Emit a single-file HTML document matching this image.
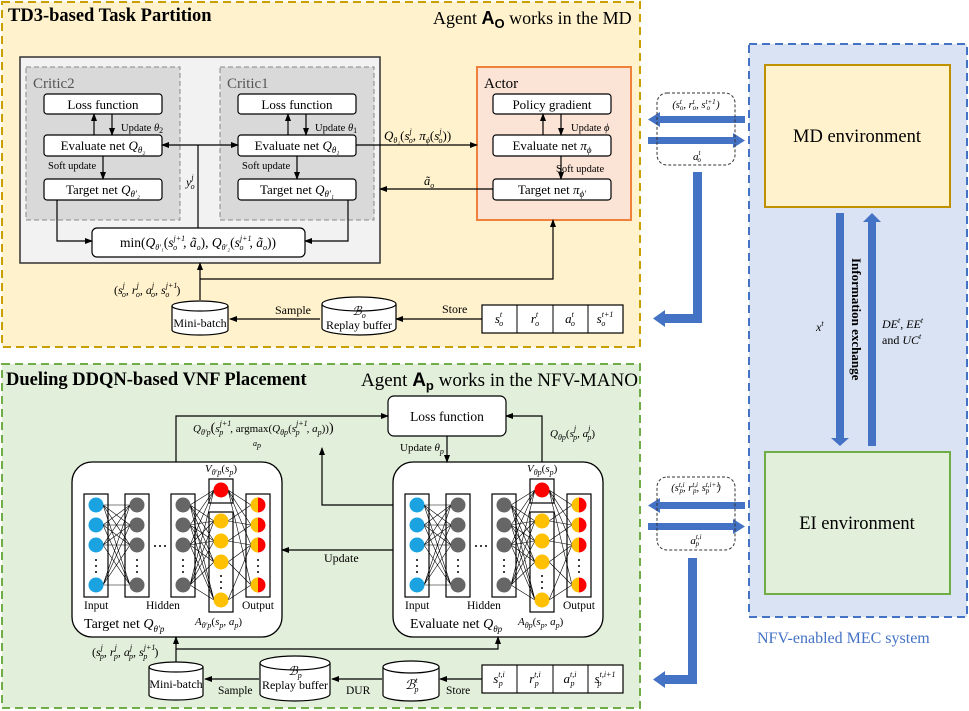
<!DOCTYPE html>
<html><head><meta charset="utf-8"><style>
html,body{margin:0;padding:0;background:#fff}
svg{display:block}
text{font-family:"Liberation Serif",serif;fill:#000}
.i{font-style:italic}
</style></head><body>
<svg width="969" height="711" viewBox="0 0 969 711" xmlns="http://www.w3.org/2000/svg">
<defs>
<marker id="a" markerWidth="8" markerHeight="8" refX="7" refY="4" orient="auto" markerUnits="userSpaceOnUse"><path d="M0,1 L8,4 L0,7 Z" fill="#000"/></marker>
<g id="net">
<path fill="none" stroke="#000" stroke-width="0.6" d="M103 505L130 505M103 505L130 525M103 505L130 545M103 505L130 585M103 525L130 505M103 525L130 525M103 525L130 545M103 525L130 585M103 545L130 505M103 545L130 525M103 545L130 545M103 545L130 585M103 585L130 505M103 585L130 525M103 585L130 545M103 585L130 585
M190 505L214 490M190 505L214 521M190 505L214 541M190 505L214 562M190 505L214 600M190 525L214 490M190 525L214 521M190 525L214 541M190 525L214 562M190 525L214 600M190 545L214 490M190 545L214 521M190 545L214 541M190 545L214 562M190 545L214 600M190 585L214 490M190 585L214 521M190 585L214 541M190 585L214 562M190 585L214 600
M228 490L251 505M228 490L251 525M228 490L251 545M228 490L251 585M228 521L251 505M228 541L251 525M228 562L251 545M228 600L251 585M228 521L251 525M228 541L251 545M228 562L251 585M228 600L251 545"/>
<rect x="84" y="494" width="24" height="103" fill="none" stroke="#000" stroke-width="1.2"/>
<rect x="125" y="494" width="24" height="103" fill="none" stroke="#000" stroke-width="1.2"/>
<rect x="171" y="494" width="24" height="103" fill="none" stroke="#000" stroke-width="1.2"/>
<rect x="209" y="479" width="24" height="24" fill="none" stroke="#000" stroke-width="1.2"/>
<rect x="209" y="512" width="24" height="100" fill="none" stroke="#000" stroke-width="1.2"/>
<rect x="246" y="494" width="24" height="103" fill="none" stroke="#000" stroke-width="1.2"/>
<g fill="#1aa3e0"><circle cx="96" cy="505" r="7.5"/><circle cx="96" cy="525" r="7.5"/><circle cx="96" cy="545" r="7.5"/><circle cx="96" cy="585" r="7.5"/></g>
<g fill="#666"><circle cx="137" cy="505" r="7.5"/><circle cx="137" cy="525" r="7.5"/><circle cx="137" cy="545" r="7.5"/><circle cx="137" cy="585" r="7.5"/>
<circle cx="183" cy="505" r="7.5"/><circle cx="183" cy="525" r="7.5"/><circle cx="183" cy="545" r="7.5"/><circle cx="183" cy="585" r="7.5"/></g>
<circle cx="221" cy="490" r="7.5" fill="#f00"/>
<g fill="#ffc000"><circle cx="221" cy="521" r="7.5"/><circle cx="221" cy="541" r="7.5"/><circle cx="221" cy="562" r="7.5"/><circle cx="221" cy="600" r="7.5"/></g>
<g><path d="M258 497.5 a7.5 7.5 0 0 0 0 15z M258 517.5 a7.5 7.5 0 0 0 0 15z M258 537.5 a7.5 7.5 0 0 0 0 15z M258 577.5 a7.5 7.5 0 0 0 0 15z" fill="#ffc000"/>
<path d="M258 497.5 a7.5 7.5 0 0 1 0 15z M258 517.5 a7.5 7.5 0 0 1 0 15z M258 537.5 a7.5 7.5 0 0 1 0 15z M258 577.5 a7.5 7.5 0 0 1 0 15z" fill="#f00"/></g>
<g fill="#000"><circle cx="96" cy="560" r="1"/><circle cx="96" cy="566" r="1"/><circle cx="96" cy="572" r="1"/>
<circle cx="137" cy="560" r="1"/><circle cx="137" cy="566" r="1"/><circle cx="137" cy="572" r="1"/>
<circle cx="183" cy="560" r="1"/><circle cx="183" cy="566" r="1"/><circle cx="183" cy="572" r="1"/>
<circle cx="221" cy="576" r="1"/><circle cx="221" cy="582" r="1"/><circle cx="221" cy="588" r="1"/>
<circle cx="258" cy="560" r="1"/><circle cx="258" cy="566" r="1"/><circle cx="258" cy="572" r="1"/>
<circle cx="155" cy="546" r="1"/><circle cx="160" cy="546" r="1"/><circle cx="165" cy="546" r="1"/></g>
</g>
</defs>

<!-- TOP PANEL -->
<rect x="2" y="2" width="638" height="345" fill="#fff2cc" stroke="#c9a000" stroke-width="2" stroke-dasharray="8,5"/>
<text x="8" y="21" font-size="18.5" font-weight="bold">TD3-based Task Partition</text>
<text x="433" y="24" font-size="18">Agent <tspan font-weight="bold" font-family="Liberation Sans">A<tspan font-size="13" dy="4">O</tspan></tspan><tspan dy="-4"> works in the MD</tspan></text>

<rect x="20" y="57" width="360" height="206" fill="#f2f2f2" stroke="#333" stroke-width="1.5"/>
<rect x="26" y="67" width="154" height="153" fill="#d9d9d9" stroke="#888" stroke-dasharray="5,3"/>
<rect x="220" y="67" width="154" height="153" fill="#d9d9d9" stroke="#888" stroke-dasharray="5,3"/>
<text x="33" y="88" font-size="15" style="fill:#555">Critic2</text>
<text x="227" y="88" font-size="15" style="fill:#555">Critic1</text>
<g fill="#fff" stroke="#000" stroke-width="1.2">
<rect x="44" y="94" width="118" height="20" rx="3"/><rect x="44" y="135" width="118" height="21" rx="3"/><rect x="44" y="179" width="118" height="21" rx="3"/>
<rect x="238" y="94" width="118" height="20" rx="3"/><rect x="238" y="135" width="118" height="21" rx="3"/><rect x="238" y="179" width="118" height="21" rx="3"/>
</g>
<rect x="477" y="67" width="154" height="153" fill="#fbe3d6" stroke="#f0813c" stroke-width="2"/>
<text x="484" y="88" font-size="15">Actor</text>
<g fill="#fff" stroke="#000" stroke-width="1.2">
<rect x="493" y="94" width="118" height="20" rx="3"/><rect x="493" y="135" width="118" height="21" rx="3"/><rect x="493" y="179" width="118" height="21" rx="3"/>
<rect x="92" y="228" width="213" height="29" rx="5"/>
</g>
<g font-size="13" text-anchor="middle">
<text x="103" y="109">Loss function</text><text x="297" y="109">Loss function</text><text x="552" y="109">Policy gradient</text>
<text x="103" y="150">Evaluate net <tspan class="i">Q</tspan><tspan class="i" font-size="9" dy="3">θ₂</tspan></text>
<text x="297" y="150">Evaluate net <tspan class="i">Q</tspan><tspan class="i" font-size="9" dy="3">θ₁</tspan></text>
<text x="552" y="150">Evaluate net <tspan class="i">π</tspan><tspan class="i" font-size="9" dy="3">ϕ</tspan></text>
<text x="103" y="194">Target net <tspan class="i">Q</tspan><tspan class="i" font-size="9" dy="3">θ′₂</tspan></text>
<text x="297" y="194">Target net <tspan class="i">Q</tspan><tspan class="i" font-size="9" dy="3">θ′₁</tspan></text>
<text x="552" y="194">Target net <tspan class="i">π</tspan><tspan class="i" font-size="9" dy="3">ϕ′</tspan></text>
<text x="198" y="247" font-size="13.5">min(<tspan class="i">Q</tspan><tspan class="i" font-size="8" dy="3">θ′₁</tspan><tspan dy="-3">(</tspan><tspan class="i">s</tspan><tspan class="i" font-size="8" dy="-6">j+1</tspan><tspan font-size="8" class="i" dx="-12" dy="9">o</tspan><tspan dy="-3" dx="6">, </tspan><tspan class="i">ã</tspan><tspan class="i" font-size="8" dy="3">o</tspan><tspan dy="-3">), </tspan><tspan class="i">Q</tspan><tspan class="i" font-size="8" dy="3">θ′₂</tspan><tspan dy="-3">(</tspan><tspan class="i">s</tspan><tspan class="i" font-size="8" dy="-6">j+1</tspan><tspan font-size="8" class="i" dx="-12" dy="9">o</tspan><tspan dy="-3" dx="6">, </tspan><tspan class="i">ã</tspan><tspan class="i" font-size="8" dy="3">o</tspan><tspan dy="-3">))</tspan></text>
</g>
<g font-size="10.5">
<text x="121" y="131">Update <tspan class="i">θ</tspan><tspan font-size="8" dy="2">2</tspan></text>
<text x="315" y="131">Update <tspan class="i">θ</tspan><tspan font-size="8" dy="2">1</tspan></text>
<text x="571" y="131">Update <tspan class="i">ϕ</tspan></text>
<text x="48" y="169">Soft update</text><text x="242" y="169">Soft update</text><text x="556" y="172">Soft update</text>
</g>
<g stroke="#000" stroke-width="1.2" fill="none" marker-end="url(#a)">
<path d="M94 135V114"/><path d="M112 114V135"/><path d="M288 135V114"/><path d="M306 114V135"/><path d="M543 135V114"/><path d="M561 114V135"/>
<path d="M103 156V179"/><path d="M297 156V179"/><path d="M561 156V179"/>
<path d="M198 145H162"/><path d="M198 145H238"/>
<path d="M356 145H477"/><path d="M493 189H380"/>
<path d="M57 200V241H92"/><path d="M348 200V241H305"/>
<path d="M200 300V263"/><path d="M200 279H553V220"/>
<path d="M320 319H230"/><path d="M482 319H396"/>
</g>
<path d="M198 145V228" stroke="#000" stroke-width="1.2"/>
<text x="186" y="186" font-size="12" class="i">y<tspan font-size="8" dy="-6">j</tspan><tspan font-size="8" dx="-3" dy="9">o</tspan></text>
<text x="384" y="140" font-size="13" class="i">Q<tspan font-size="8" dy="3">θ₁</tspan><tspan dy="-3" font-style="normal">(</tspan>s<tspan font-size="8" dy="-6">j</tspan><tspan font-size="8" dx="-3" dy="9">o</tspan><tspan dy="-3" font-style="normal">, </tspan>π<tspan font-size="8" dy="3">ϕ</tspan><tspan dy="-3" font-style="normal">(</tspan>s<tspan font-size="8" dy="-6">j</tspan><tspan font-size="8" dx="-3" dy="9">o</tspan><tspan dy="-3" font-style="normal">))</tspan></text>
<text x="424" y="185" font-size="12.5" class="i">ã<tspan font-size="8" dy="3">o</tspan></text>
<text x="114" y="294" font-size="12"><tspan>(</tspan><tspan class="i">s</tspan><tspan class="i" font-size="8" dy="-6">j</tspan><tspan class="i" font-size="8" dx="-3" dy="9">o</tspan><tspan dy="-3">, </tspan><tspan class="i">r</tspan><tspan class="i" font-size="8" dy="-6">j</tspan><tspan class="i" font-size="8" dx="-3" dy="9">o</tspan><tspan dy="-3">, </tspan><tspan class="i">a</tspan><tspan class="i" font-size="8" dy="-6">j</tspan><tspan class="i" font-size="8" dx="-3" dy="9">o</tspan><tspan dy="-3">, </tspan><tspan class="i">s</tspan><tspan class="i" font-size="8" dy="-6">j+1</tspan><tspan class="i" font-size="8" dx="-12" dy="9">o</tspan><tspan dy="-3" dx="7">)</tspan></text>
<g fill="#fff" stroke="#000" stroke-width="1.2">
<path d="M172 306V330A28 5 0 0 0 228 330V306"/><ellipse cx="200" cy="306" rx="28" ry="5"/>
<path d="M322 304V328A37 7 0 0 0 396 328V304"/><ellipse cx="359" cy="304" rx="37" ry="7"/>
</g>
<text x="200" y="327" font-size="12" text-anchor="middle">Mini-batch</text>
<text x="359" y="315" font-size="12" text-anchor="middle" class="i">ℬ<tspan font-size="8" dy="3">o</tspan></text>
<text x="359" y="329" font-size="12" text-anchor="middle">Replay buffer</text>
<text x="275" y="314" font-size="12">Sample</text>
<text x="442" y="313" font-size="12">Store</text>
<g fill="#fff" stroke="#000" stroke-width="1.2"><rect x="482" y="305" width="141" height="28"/></g>
<path d="M517 305V333M553 305V333M588 305V333" stroke="#000"/>
<g font-size="13" class="i" text-anchor="middle">
<text x="499" y="323">s<tspan font-size="8" dy="-6">t</tspan><tspan font-size="8" dx="-3" dy="9">o</tspan></text>
<text x="535" y="323">r<tspan font-size="8" dy="-6">t</tspan><tspan font-size="8" dx="-3" dy="9">o</tspan></text>
<text x="570" y="323">a<tspan font-size="8" dy="-6">t</tspan><tspan font-size="8" dx="-3" dy="9">o</tspan></text>
<text x="605" y="323">s<tspan font-size="8" dy="-6">t+1</tspan><tspan font-size="8" dx="-12" dy="9">o</tspan></text>
</g>

<!-- BOTTOM PANEL -->
<rect x="2" y="364" width="638" height="344" fill="#e2efda" stroke="#70ad47" stroke-width="2" stroke-dasharray="8,5"/>
<text x="6" y="385" font-size="18.5" font-weight="bold">Dueling DDQN-based VNF Placement</text>
<text x="361" y="386" font-size="19">Agent <tspan font-weight="bold" font-family="Liberation Sans">A<tspan font-size="13" dy="4">p</tspan></tspan><tspan dy="-4"> works in the NFV-MANO</tspan></text>
<rect x="388" y="396" width="118" height="40" rx="6" fill="#fff" stroke="#000" stroke-width="1.2"/>
<text x="447" y="421" font-size="13.5" text-anchor="middle">Loss function</text>
<rect x="72" y="462" width="210" height="175" rx="20" fill="#fff" stroke="#000" stroke-width="1.3"/>
<rect x="393" y="462" width="210" height="175" rx="20" fill="#fff" stroke="#000" stroke-width="1.3"/>
<use href="#net"/>
<use href="#net" x="321"/>
<g font-size="11.5">
<text x="84" y="609">Input</text><text x="146" y="609">Hidden</text><text x="242" y="609">Output</text>
<text x="405" y="609">Input</text><text x="467" y="609">Hidden</text><text x="563" y="609">Output</text>
</g>
<text x="84" y="628" font-size="14">Target net  <tspan class="i">Q</tspan><tspan class="i" font-size="9" dy="4">θ′p</tspan></text>
<text x="410" y="628" font-size="14">Evaluate net  <tspan class="i">Q</tspan><tspan class="i" font-size="9" dy="4">θp</tspan></text>
<text x="195" y="625" font-size="11" class="i">A<tspan font-size="8" dy="3">θ′p</tspan><tspan dy="-3" font-style="normal">(</tspan>s<tspan font-size="8" dy="3">p</tspan><tspan dy="-3">, a</tspan><tspan font-size="8" dy="3">p</tspan><tspan dy="-3" font-style="normal">)</tspan></text>
<text x="518" y="625" font-size="11" class="i">A<tspan font-size="8" dy="3">θp</tspan><tspan dy="-3" font-style="normal">(</tspan>s<tspan font-size="8" dy="3">p</tspan><tspan dy="-3">, a</tspan><tspan font-size="8" dy="3">p</tspan><tspan dy="-3" font-style="normal">)</tspan></text>
<text x="205" y="472" font-size="11" class="i">V<tspan font-size="8" dy="3">θ′p</tspan><tspan dy="-3" font-style="normal">(</tspan>s<tspan font-size="8" dy="3">p</tspan><tspan dy="-3" font-style="normal">)</tspan></text>
<text x="527" y="472" font-size="11" class="i">V<tspan font-size="8" dy="3">θp</tspan><tspan dy="-3" font-style="normal">(</tspan>s<tspan font-size="8" dy="3">p</tspan><tspan dy="-3" font-style="normal">)</tspan></text>
<g stroke="#000" stroke-width="1.2" fill="none" marker-end="url(#a)">
<path d="M176 462V416H388"/><path d="M542 462V416H506"/><path d="M447 436V462"/>
<path d="M393 505H322V448"/><path d="M393 550H282"/>
<path d="M176 668V637"/><path d="M176 649H498V637"/>
<path d="M259 679H205"/><path d="M382 679H332"/><path d="M482 679H440"/>
</g>
<text x="193" y="432" font-size="11" class="i">Q<tspan font-size="8" dy="3">θ′p</tspan><tspan dy="-3" font-style="normal" font-size="14">(</tspan>s<tspan font-size="8" dy="-6">j+1</tspan><tspan font-size="8" dx="-12" dy="9">p</tspan><tspan dy="-3" dx="7" font-style="normal">, argmax(</tspan>Q<tspan font-size="8" dy="3">θp</tspan><tspan dy="-3" font-style="normal">(</tspan>s<tspan font-size="8" dy="-6">j+1</tspan><tspan font-size="8" dx="-12" dy="9">p</tspan><tspan dy="-3" dx="7">, a</tspan><tspan font-size="8" dy="3">p</tspan><tspan dy="-3" font-style="normal">))</tspan><tspan font-style="normal" font-size="14">)</tspan></text>
<text x="253" y="446" font-size="8" class="i">a<tspan dy="2">p</tspan></text>
<text x="400" y="451" font-size="11">Update <tspan class="i">θ</tspan><tspan class="i" font-size="8" dy="3">p</tspan></text>
<text x="550" y="437" font-size="11" class="i">Q<tspan font-size="8" dy="3">θp</tspan><tspan dy="-3" font-style="normal">(</tspan>s<tspan font-size="8" dy="-6">j</tspan><tspan font-size="8" dx="-3" dy="9">p</tspan><tspan dy="-3">, a</tspan><tspan font-size="8" dy="-6">j</tspan><tspan font-size="8" dx="-3" dy="9">p</tspan><tspan dy="-3" font-style="normal">)</tspan></text>
<text x="324" y="562" font-size="12">Update</text>
<text x="92" y="656" font-size="12"><tspan>(</tspan><tspan class="i">s</tspan><tspan class="i" font-size="8" dy="-6">j</tspan><tspan class="i" font-size="8" dx="-3" dy="9">p</tspan><tspan dy="-3">, </tspan><tspan class="i">r</tspan><tspan class="i" font-size="8" dy="-6">j</tspan><tspan class="i" font-size="8" dx="-3" dy="9">p</tspan><tspan dy="-3">, </tspan><tspan class="i">a</tspan><tspan class="i" font-size="8" dy="-6">j</tspan><tspan class="i" font-size="8" dx="-3" dy="9">p</tspan><tspan dy="-3">, </tspan><tspan class="i">s</tspan><tspan class="i" font-size="8" dy="-6">j+1</tspan><tspan class="i" font-size="8" dx="-12" dy="9">p</tspan><tspan dy="-3" dx="7">)</tspan></text>
<g fill="#fff" stroke="#000" stroke-width="1.2">
<path d="M149 667V695A27 5 0 0 0 203 695V667"/><ellipse cx="176" cy="667" rx="27" ry="5"/>
<path d="M260 663V694A35 7 0 0 0 330 694V663"/><ellipse cx="295" cy="663" rx="35" ry="7"/>
<path d="M383 667V695A28 6 0 0 0 439 695V667"/><ellipse cx="411" cy="667" rx="28" ry="6"/>
<rect x="482" y="665" width="141" height="28"/>
</g>
<path d="M517 665V693M553 665V693M588 665V693" stroke="#000"/>
<text x="176" y="688" font-size="12" text-anchor="middle">Mini-batch</text>
<text x="295" y="675" font-size="12" text-anchor="middle" class="i">ℬ<tspan font-size="8" dy="3">p</tspan></text>
<text x="295" y="689" font-size="12" text-anchor="middle">Replay buffer</text>
<text x="405" y="689" font-size="13" class="i">ℬ<tspan font-size="8" dy="-6">t</tspan><tspan font-size="8" dx="-3" dy="9">p</tspan></text>
<text x="218" y="694" font-size="11.5">Sample</text>
<text x="346" y="694" font-size="11.5">DUR</text>
<text x="446" y="694" font-size="11.5">Store</text>
<g font-size="13" class="i" text-anchor="middle">
<text x="499" y="683">s<tspan font-size="8" dy="-6">t,i</tspan><tspan font-size="8" dx="-6" dy="9">p</tspan></text>
<text x="535" y="683">r<tspan font-size="8" dy="-6">t,i</tspan><tspan font-size="8" dx="-6" dy="9">p</tspan></text>
<text x="570" y="683">a<tspan font-size="8" dy="-6">t,i</tspan><tspan font-size="8" dx="-6" dy="9">p</tspan></text>
<text x="605" y="683">s<tspan font-size="8" dy="-6">t,i+1</tspan><tspan font-size="8" dx="-18" dy="9">p</tspan></text>
</g>

<!-- RIGHT SYSTEM -->
<rect x="749" y="44" width="218" height="573" fill="#dae3f3" stroke="#4472c4" stroke-width="2" stroke-dasharray="8,5"/>
<rect x="765" y="65" width="185" height="142" fill="#fff2cc" stroke="#bf9000" stroke-width="2"/>
<rect x="765" y="452" width="185" height="142" fill="#e2efda" stroke="#70ad47" stroke-width="2"/>
<text x="857" y="142" font-size="18.5" text-anchor="middle">MD environment</text>
<text x="857" y="529" font-size="18.5" text-anchor="middle">EI environment</text>
<g fill="#4472c4">
<path d="M836 213H844V438H849L840 446L831 438H836Z"/>
<path d="M868 446H876V222H881L872 213L863 222H868Z"/>
<path d="M745 116V123H660V127L648 119.5L660 112V116Z"/>
<path d="M648 137V144H733V148L745 140.5L733 133V137Z"/>
<path d="M693 172H702V323H665V327L653 318.5L665 310V314H693Z"/>
<path d="M745 502V509H660V513L648 505.5L660 498V502Z"/>
<path d="M648 523V530H733V534L745 526.5L733 519V523Z"/>
<path d="M688 558H697V684H665V688L653 679.5L665 671V675H688Z"/>
</g>
<rect x="657" y="93" width="78" height="72" rx="10" fill="none" stroke="#333" stroke-dasharray="3,2"/>
<rect x="657" y="477" width="78" height="73" rx="10" fill="none" stroke="#333" stroke-dasharray="3,2"/>
<text x="696" y="108" font-size="10.5" text-anchor="middle" class="i">(s<tspan font-size="7" dy="-4">t</tspan><tspan font-size="7" dx="-2" dy="6">o</tspan><tspan dy="-2">, r</tspan><tspan font-size="7" dy="-4">t</tspan><tspan font-size="7" dx="-2" dy="6">o</tspan><tspan dy="-2">, s</tspan><tspan font-size="7" dy="-4">t+1</tspan><tspan font-size="7" dx="-9" dy="6">o</tspan><tspan dy="-2" dx="6">)</tspan></text>
<text x="697" y="160" font-size="11" text-anchor="middle" class="i">a<tspan font-size="7" dy="-5">t</tspan><tspan font-size="7" dx="-3" dy="7">o</tspan></text>
<text x="696" y="491" font-size="10.5" text-anchor="middle" class="i">(s<tspan font-size="7" dy="-4">t,i</tspan><tspan font-size="7" dx="-5" dy="6">p</tspan><tspan dy="-2">, r</tspan><tspan font-size="7" dy="-4">t,i</tspan><tspan font-size="7" dx="-5" dy="6">p</tspan><tspan dy="-2">, s</tspan><tspan font-size="7" dy="-4">t,i+1</tspan><tspan font-size="7" dx="-14" dy="6">p</tspan><tspan dy="-2" dx="8">)</tspan></text>
<text x="696" y="544" font-size="11" text-anchor="middle" class="i">a<tspan font-size="7" dy="-5">t,i</tspan><tspan font-size="7" dx="-6" dy="7">p</tspan></text>
<text transform="translate(852,258) rotate(90)" font-size="13" font-weight="bold">Information exchange</text>
<text x="816" y="331" font-size="12" class="i">x<tspan font-size="8" dy="-5">t</tspan></text>
<text x="882" y="328" font-size="12"><tspan class="i">DE</tspan><tspan class="i" font-size="8" dy="-5">t</tspan><tspan dy="5">, </tspan><tspan class="i">EE</tspan><tspan class="i" font-size="8" dy="-5">t</tspan></text>
<text x="882" y="344" font-size="12">and <tspan class="i">UC</tspan><tspan class="i" font-size="8" dy="-5">t</tspan></text>
<text x="757" y="643" font-size="16" style="fill:#4472c4">NFV-enabled MEC system</text>
</svg>
</body></html>
